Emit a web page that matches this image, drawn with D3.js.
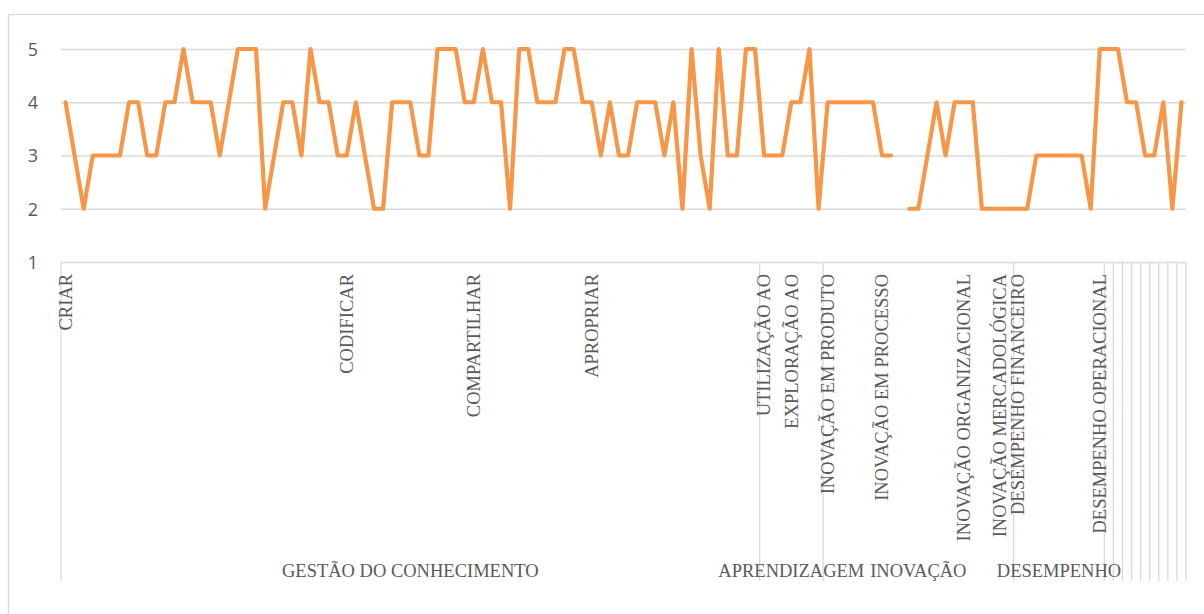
<!DOCTYPE html>
<html>
<head>
<meta charset="utf-8">
<script src="https://cdn.jsdelivr.net/npm/d3@7"></script>
<style>
  body { margin: 0; background: #fff; }
  #chart svg { display: block; }
</style>
</head>
<body>
<div id="chart"></div>
<script>
// Values per item (null = missing answer)
const values = [
  4, 3, 2, 3, 3, 3, 3, 4, 4, 3, 3, 4, 4, 5, 4, 4, 4, 3, 4, 5,
  5, 5, 2, 3, 4, 4, 3, 5, 4, 4, 3, 3, 4, 3, 2, 2, 4, 4, 4, 3,
  3, 5, 5, 5, 4, 4, 5, 4, 4, 2, 5, 5, 4, 4, 4, 5, 5, 4, 4, 3,
  4, 3, 3, 4, 4, 4, 3, 4, 2, 5, 3, 2, 5, 3, 3, 5, 5, 3, 3, 3,
  4, 4, 5, 2, 4, 4, 4, 4, 4, 4, 3, 3, null, 2, 2, 3, 4, 3, 4, 4,
  4, 2, 2, 2, 2, 2, 2, 3, 3, 3, 3, 3, 3, 2, 5, 5, 5, 4, 4, 3,
  3, 4, 2, 4
];

// Inner category labels and the item where each one starts
const subLabels = [
  "CRIAR", "CODIFICAR", "COMPARTILHAR", "APROPRIAR",
  "UTILIZAÇÃO AO", "EXPLORAÇÃO AO",
  "INOVAÇÃO EM PRODUTO", "INOVAÇÃO EM PROCESSO", "INOVAÇÃO ORGANIZACIONAL", "INOVAÇÃO MERCADOLÓGICA",
  "DESEMPENHO FINANCEIRO", "DESEMPENHO OPERACIONAL"
];
const subStart = [0, 31, 45, 58, 77, 80, 84, 90, 99, 103, 105, 114];

// Outer groups and their first item (last entry = end)
const groups = ["GESTÃO DO CONHECIMENTO", "APRENDIZAGEM", "INOVAÇÃO", "DESEMPENHO", "", "", "", "", "", "", "", "", ""];
const groupStart = [0, 77, 84, 105, 115, 116, 117, 118, 119, 120, 121, 122, 123, 124];

const yTicks = [1, 2, 3, 4, 5];

const W = 1204, H = 614;
const plot = { left: 61, right: 1186, top: 49, bottom: 262 };

const svg = d3.select("#chart")
    .append("svg")
    .attr("width", W)
    .attr("height", H);

// Chart border
svg.append("rect")
    .attr("x", 8.5)
    .attr("y", 14.5)
    .attr("width", 1210)
    .attr("height", 620)
    .attr("fill", "none")
    .attr("stroke", "#d9d9d9")
    .attr("stroke-width", 1.3);

const x = d3.scaleBand()
    .domain(d3.range(values.length))
    .range([plot.left, plot.right])
    .paddingInner(0)
    .paddingOuter(0);

const y = d3.scaleLinear()
    .domain([1, 5])
    .range([plot.bottom, plot.top]);

// Gridlines + y labels
const yAxis = d3.axisLeft(y)
    .tickValues(yTicks)
    .tickSize(-(plot.right - plot.left))
    .tickPadding(23)
    .tickFormat(d3.format("d"));

const gy = svg.append("g")
    .attr("transform", `translate(${plot.left},0)`)
    .call(yAxis);
gy.select(".domain").remove();
gy.selectAll(".tick line")
    .attr("stroke", "#d9d9d9")
    .attr("stroke-width", 1.3);
gy.selectAll(".tick text")
    .attr("fill", "#595959")
    .style("font-family", "'Open Sans', 'Noto Sans', sans-serif")
    .style("font-size", "18px")
    .attr("dy", "0.36em");

// Group divider lines on the category axis
const axisBottom = 581;
svg.append("g")
    .selectAll("line")
    .data(groupStart)
    .enter()
    .append("line")
    .attr("x1", d => d < values.length ? x(d) : plot.right)
    .attr("x2", d => d < values.length ? x(d) : plot.right)
    .attr("y1", plot.bottom)
    .attr("y2", axisBottom)
    .attr("stroke", "#d9d9d9")
    .attr("stroke-width", 1.3);

// Inner category labels (rotated)
svg.append("g")
    .selectAll("text")
    .data(subLabels)
    .enter()
    .append("text")
    .attr("transform", (d, i) => `translate(${x(subStart[i]) + x.bandwidth() / 2},274) rotate(-90)`)
    .attr("dy", "0.34em")
    .attr("text-anchor", "end")
    .attr("fill", "#595959")
    .style("font-family", "'Liberation Serif', 'Times New Roman', serif")
    .style("font-size", "18.5px")
    .text(d => d);

// Outer group labels
svg.append("g")
    .selectAll("text")
    .data(groups)
    .enter()
    .append("text")
    .attr("x", (d, i) => (x(groupStart[i]) + (groupStart[i + 1] < values.length ? x(groupStart[i + 1]) : plot.right)) / 2)
    .attr("y", 577)
    .attr("text-anchor", "middle")
    .attr("fill", "#595959")
    .style("font-family", "'Liberation Serif', 'Times New Roman', serif")
    .style("font-size", "18.5px")
    .text(d => d);

// Data line
const line = d3.line()
    .defined(d => d != null)
    .x((d, i) => x(i) + x.bandwidth() / 2)
    .y(d => y(d));

svg.append("path")
    .datum(values)
    .attr("d", line)
    .attr("fill", "none")
    .attr("stroke", "#f79646")
    .attr("stroke-width", 4.2)
    .attr("stroke-linejoin", "round")
    .attr("stroke-linecap", "round");
</script>
</body>
</html>
